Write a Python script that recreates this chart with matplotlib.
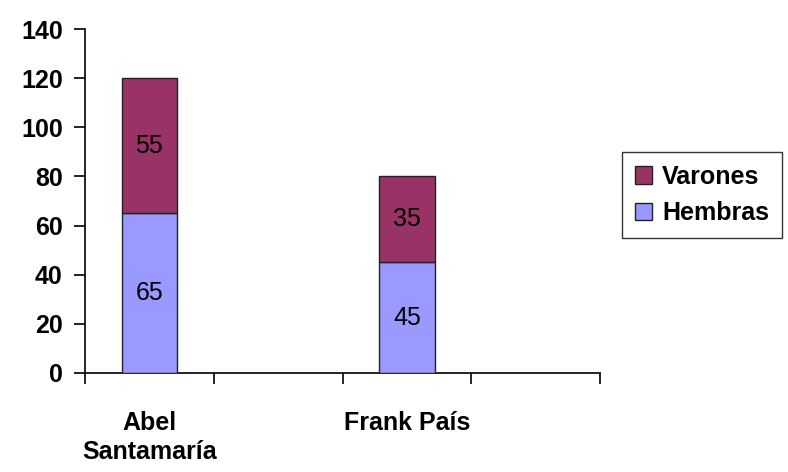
import matplotlib
matplotlib.use("Agg")
import matplotlib.pyplot as plt
import numpy as np

# Data
categories = ["Abel\nSantamaría", "Frank País"]
hembras = [65, 45]
varones = [55, 35]
yticks = [0, 20, 40, 60, 80, 100, 120, 140]

col_hembras = "#9999FF"
col_varones = "#993366"

plt.rcParams["font.family"] = ["Liberation Sans", "DejaVu Sans"]

fig = plt.figure(figsize=(7.88, 4.72), dpi=100)
ax = fig.add_axes([85 / 788, 1 - 373 / 472, (600 - 85) / 788, (373 - 29) / 472])

# each category occupies one slot followed by an empty slot
n = len(categories)
x = np.arange(n) * 2
width = 0.43

b1 = ax.bar(x, hembras, width, color=col_hembras, edgecolor="#222222",
            linewidth=1.0, label="Hembras", zorder=3)
b2 = ax.bar(x, varones, width, bottom=hembras, color=col_varones,
            edgecolor="#222222", linewidth=1.0, label="Varones", zorder=3)

for xi, h, v in zip(x, hembras, varones):
    ax.text(xi, h / 2, f"{h}", ha="center", va="center", fontsize=18,
            color="black", zorder=4)
    ax.text(xi, h + v / 2, f"{v}", ha="center", va="center", fontsize=18,
            color="black", zorder=4)

ax.set_xlim(-0.5, 2 * n - 0.5)
ax.set_ylim(0, 140)
ax.set_yticks(yticks)
ax.set_yticklabels([str(t) for t in yticks], fontsize=18, fontweight="bold")

# category boundaries carry tick marks, labels sit at the bar centres
ax.set_xticks(np.arange(-0.5, 2 * n, 1.0))
ax.set_xticklabels([])
ax.set_xticks(x, minor=True)
ax.set_xticklabels(categories, minor=True, fontsize=18, fontweight="bold",
                   va="top", linespacing=1.3)
ax.tick_params(axis="x", which="minor", length=0, pad=27)
ax.tick_params(axis="x", which="major", length=8, width=1.2, direction="out")
ax.tick_params(axis="y", length=8, width=1.2, direction="out", pad=8)

for s in ["top", "right"]:
    ax.spines[s].set_visible(False)
for s in ["left", "bottom"]:
    ax.spines[s].set_linewidth(1.2)
    ax.spines[s].set_color("black")

leg = fig.legend(handles=[b2, b1], labels=["Varones", "Hembras"],
                 loc="upper left", bbox_to_anchor=(622 / 788, 1 - 152 / 472),
                 frameon=True, fancybox=False, edgecolor="black",
                 prop={"size": 18, "weight": "bold"},
                 handlelength=0.7, handleheight=0.7, handletextpad=0.4,
                 labelspacing=0.5, borderpad=0.5, borderaxespad=0)
leg.get_frame().set_linewidth(1.0)

fig.savefig("out.png", dpi=100)
